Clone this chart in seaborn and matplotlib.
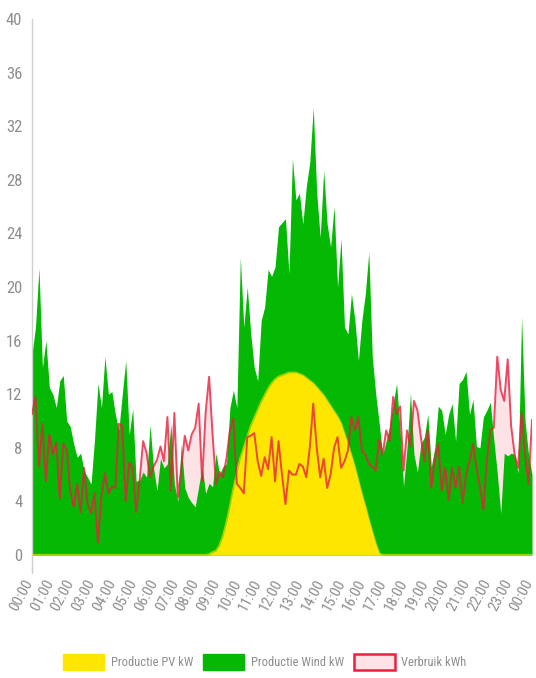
import pandas as pd
import seaborn as sns
import matplotlib.pyplot as plt
from matplotlib.patches import Patch
from matplotlib.transforms import ScaledTranslation

# Values every 10 minutes, from 00:00 until 00:00 the next day (145 points)
pv_kw = [
    0, 0, 0, 0, 0, 0, 0, 0, 0, 0,
    0, 0, 0, 0, 0, 0, 0, 0, 0, 0,
    0, 0, 0, 0, 0, 0, 0, 0, 0, 0,
    0, 0, 0, 0, 0, 0, 0, 0, 0, 0,
    0, 0, 0, 0, 0, 0, 0, 0, 0, 0,
    0, 0.05, 0.2, 0.3, 0.7, 1.4, 2.4, 3.6, 4.9, 6.1,
    7.2, 8.0, 8.8, 9.6, 10.2, 10.8, 11.4, 11.9, 12.4, 12.8,
    13.1, 13.3, 13.4, 13.5, 13.6, 13.6, 13.6, 13.5, 13.4, 13.2,
    13.0, 12.8, 12.5, 12.2, 11.9, 11.5, 11.1, 10.7, 10.3, 9.8,
    9.0, 8.2, 7.4, 6.5, 5.5, 4.5, 3.6, 2.6, 1.7, 0.8,
    0.1, 0, 0, 0, 0, 0, 0, 0, 0, 0,
    0, 0, 0, 0, 0, 0, 0, 0, 0, 0,
    0, 0, 0, 0, 0, 0, 0, 0, 0, 0,
    0, 0, 0, 0, 0, 0, 0, 0, 0, 0,
    0, 0, 0, 0, 0,
]

wind_kw = [
    15.0, 17.0, 21.4, 14.0, 16.0, 12.5, 12.0, 11.0, 13.0, 13.4,
    10.0, 9.6, 8.3, 7.3, 7.6, 6.3, 5.8, 5.3, 8.6, 12.8,
    11.0, 14.8, 12.0, 12.2, 10.5, 9.3, 12.0, 14.5, 9.0, 10.9,
    5.5, 5.6, 6.2, 5.8, 9.7, 6.5, 4.8, 7.2, 6.5, 6.8,
    9.8, 5.3, 4.0, 8.3, 5.0, 4.3, 3.9, 3.6, 5.1, 6.6,
    4.6, 5.3, 4.9, 7.3, 5.3, 5.2, 4.4, 7.4, 7.4, 4.9,
    15.0, 9.0, 11.2, 6.9, 3.8, 2.2, 6.1, 6.6, 8.9, 8.0,
    8.4, 11.2, 11.4, 11.6, 7.4, 16.0, 12.9, 13.5, 11.3, 14.3,
    16.3, 20.6, 14.5, 11.5, 16.8, 13.2, 11.9, 15.3, 9.7, 13.8,
    8.0, 8.3, 12.1, 11.0, 9.0, 13.0, 15.9, 20.0, 13.1, 11.2,
    9.7, 7.5, 8.5, 9.6, 11.3, 12.8, 9.3, 5.1, 8.0, 12.1,
    7.5, 6.2, 8.3, 8.8, 10.5, 6.6, 8.0, 11.1, 10.8, 9.0,
    10.5, 11.3, 8.5, 12.8, 13.1, 13.7, 10.5, 11.6, 8.1, 8.0,
    10.3, 10.8, 11.4, 8.6, 6.1, 3.1, 7.6, 7.4, 7.6, 7.5,
    6.1, 17.8, 10.0, 7.5, 6.0,
]

verbruik_kwh = [
    10.5, 11.8, 6.6, 9.8, 5.5, 9.0, 7.5, 8.4, 4.2, 8.3,
    7.8, 4.8, 3.6, 5.3, 3.2, 6.5, 3.8, 3.1, 4.6, 0.9,
    4.5, 6.1, 4.6, 5.1, 5.0, 9.8, 9.6, 4.0, 6.9, 6.5,
    3.2, 5.6, 8.5, 7.6, 5.8, 6.6, 7.1, 8.1, 7.0, 10.3,
    4.8, 10.6, 4.3, 6.5, 8.9, 7.8, 9.0, 9.5, 11.3, 5.5,
    10.6, 13.3, 9.0, 5.3, 6.2, 5.8, 7.2, 9.3, 10.2, 5.3,
    5.0, 4.6, 8.8, 8.9, 9.1, 7.0, 5.9, 7.3, 6.4, 8.8,
    5.5, 8.5, 6.0, 3.8, 6.3, 6.0, 6.0, 6.8, 6.6, 5.8,
    8.0, 11.3, 8.0, 5.8, 7.2, 5.0, 6.0, 8.0, 8.8, 6.5,
    7.0, 7.8, 10.3, 9.3, 10.3, 7.8, 7.5, 6.8, 6.6, 6.3,
    8.6, 7.5, 9.3, 8.5, 11.8, 10.5, 11.1, 6.3, 9.3, 8.1,
    11.5, 10.8, 8.8, 7.0, 9.3, 5.0, 7.1, 8.3, 4.8, 6.5,
    4.1, 6.5, 5.0, 6.6, 3.9, 6.0, 7.0, 8.3, 6.5, 5.1,
    3.4, 7.0, 9.3, 9.5, 14.8, 12.3, 11.5, 14.6, 9.6, 7.5,
    6.5, 10.6, 7.5, 5.3, 10.1,
]

hour_labels = [
    "00:00", "01:00", "02:00", "03:00", "04:00", "05:00", "06:00", "07:00",
    "08:00", "09:00", "10:00", "11:00", "12:00", "13:00", "14:00", "15:00",
    "16:00", "17:00", "18:00", "19:00", "20:00", "21:00", "22:00", "23:00",
    "00:00",
]
legend_labels = ["Productie PV kW", "Productie Wind kW", "Verbruik kWh"]

assert len(pv_kw) == len(wind_kw) == len(verbruik_kwh) == 145

# colours
yellow = "#ffe600"
green = "#04b804"
pink = "#fde2e6"
red = "#e8203c"
grey = "#cfcfcf"
text_grey = "#8e8e8e"

df = pd.DataFrame({"pv": pv_kw, "wind": wind_kw, "verbruik": verbruik_kwh})
df["tijd"] = pd.date_range("2021-06-01 00:00", periods=len(df), freq="10min")
# wind is stacked on top of pv
df["pv_wind"] = df["pv"] + df["wind"]

sns.set_theme(style="white")
plt.rcParams["font.family"] = ["Roboto Condensed", "Roboto", "DejaVu Sans"]

fig = plt.figure(figsize=(5.36, 6.78), dpi=100)
ax = fig.add_axes([32 / 536, 123 / 678, 500 / 536, 536 / 678])

ax.fill_between(df["tijd"], 0, df["verbruik"], color=pink, lw=0, zorder=1)
ax.fill_between(df["tijd"], 0, df["pv_wind"], color=green, lw=0, zorder=2)
ax.fill_between(df["tijd"], 0, df["pv"], color=yellow, lw=0, zorder=3)
sns.lineplot(data=df, x="tijd", y="pv", color=yellow, lw=1.6, alpha=0.6, ax=ax, zorder=3)
sns.lineplot(data=df, x="tijd", y="verbruik", color=red, lw=1.4, alpha=0.8, ax=ax, zorder=4)

ax.set_xlim(df["tijd"].iloc[0], df["tijd"].iloc[-1])
ax.set_ylim(0, 40)
ax.set_xlabel("")
ax.set_ylabel("")

hour_ticks = pd.date_range("2021-06-01 00:00", periods=len(hour_labels), freq="h")
ax.set_xticks(hour_ticks)
ax.set_xticklabels(hour_labels, rotation=62, ha="right", va="center", rotation_mode="anchor")
ax.set_yticks(range(0, 41, 4))
ax.set_yticks([0], minor=True)

ax.tick_params(axis="x", length=0, pad=18, labelsize=11, labelcolor=text_grey)
ax.tick_params(axis="y", which="major", length=0, pad=7, labelsize=12, labelcolor=text_grey)
ax.tick_params(axis="y", which="minor", length=7, width=1, color=grey)

# small nudge to the left so the last label stays inside the picture
shift = ScaledTranslation(-2 / 72, 0, fig.dpi_scale_trans)
for lab in ax.get_xticklabels():
    lab.set_transform(lab.get_transform() + shift)

sns.despine(ax=ax, top=True, right=True, bottom=True)
ax.spines["left"].set_color(grey)
ax.spines["left"].set_linewidth(1)
# the left axis line runs a little below zero
ax.plot([0, 0], [-0.033, 0], transform=ax.transAxes, color=grey, lw=1, clip_on=False)

handles = [
    Patch(facecolor=yellow, edgecolor=yellow),
    Patch(facecolor=green, edgecolor=green),
    Patch(facecolor=pink, edgecolor=red, linewidth=1.8),
]
fig.legend(handles, legend_labels, loc="center", bbox_to_anchor=(0.494, 1 - 662 / 678),
           ncol=3, frameon=False, handlelength=3.3, handleheight=1.65,
           handletextpad=0.5, columnspacing=0.8, fontsize=9, labelcolor=text_grey)

fig.savefig("out.png", dpi=100)
